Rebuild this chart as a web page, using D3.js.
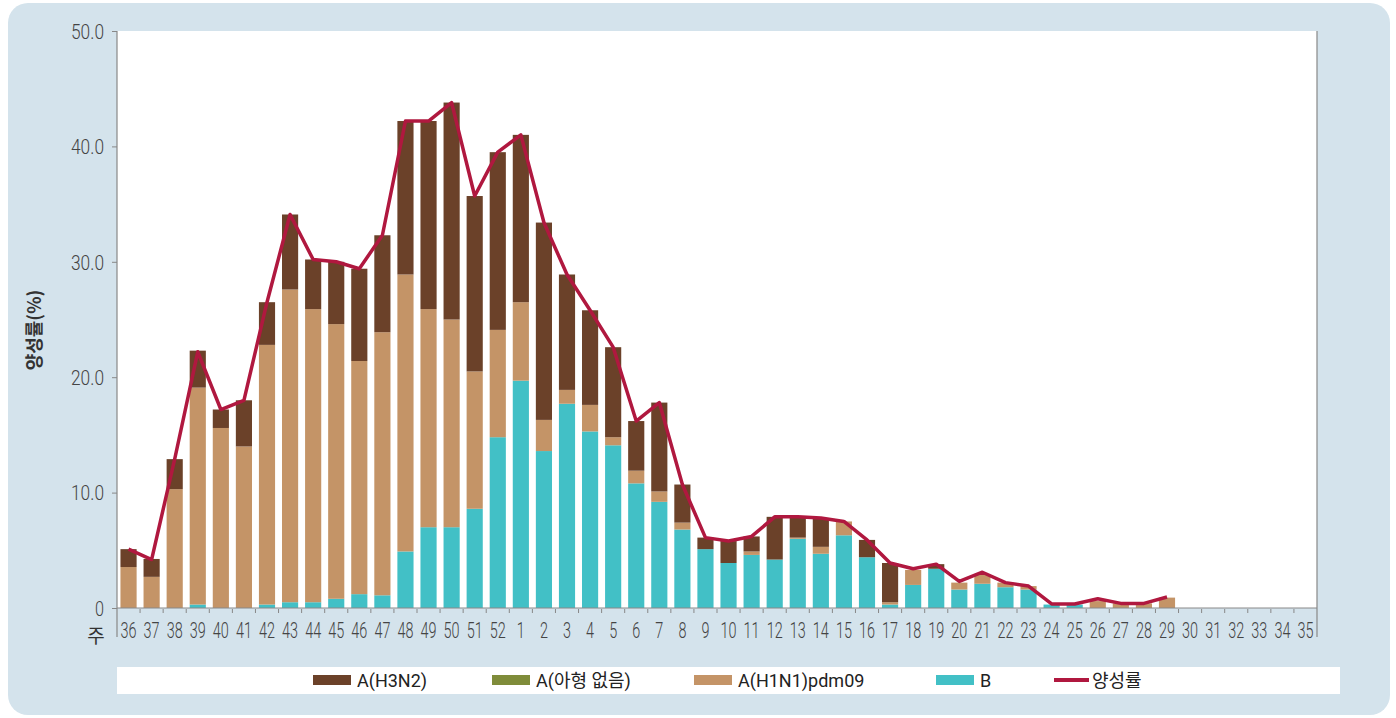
<!DOCTYPE html>
<html>
<head>
<meta charset="utf-8">
<script src="https://cdn.jsdelivr.net/npm/d3@7"></script>
<style>
  body { margin: 0; background: #fff; }
  text { font-family: Roboto, 'DejaVu Sans', sans-serif; }
</style>
</head>
<body>
<div class="chart"></div>
<script>
// weeks 36 ~ 35 (next year)
const weeks = ['36','37','38','39','40','41','42','43','44','45','46','47','48','49','50','51','52',
  '1','2','3','4','5','6','7','8','9','10','11','12','13','14','15','16','17','18','19','20',
  '21','22','23','24','25','26','27','28','29','30','31','32','33','34','35'];

const seriesB    = [0,0,0,0.3,0,0,0.3,0.5,0.5,0.8,1.2,1.1,4.9,7.0,7.0,8.6,14.8,
  19.7,13.6,17.7,15.3,14.1,10.8,9.2,6.8,5.1,3.9,4.6,4.2,6.0,4.7,6.3,4.4,0.3,2.0,3.4,1.6,
  2.1,1.8,1.6,0.3,0.3,0,0,0,0,0,0,0,0,0,0];
const seriesH1N1 = [3.55,2.7,10.3,18.8,15.6,14.0,22.5,27.1,25.4,23.8,20.2,22.8,24.0,18.9,18.0,11.9,9.3,
  6.8,2.7,1.2,2.3,0.7,1.1,0.9,0.6,0,0,0.3,0,0.1,0.6,1.2,0,0.2,1.3,0,0.6,
  0.8,0.4,0.3,0,0,0.6,0.4,0.4,0.9,0,0,0,0,0,0];
const seriesNoSub = weeks.map(() => 0);
const seriesH3N2 = [1.55,1.55,2.6,3.2,1.6,4.0,3.7,6.5,4.3,5.4,8.0,8.4,13.3,16.3,18.8,15.2,15.4,
  14.5,17.1,10.0,8.2,7.8,4.3,7.7,3.3,1.0,1.9,1.3,3.7,1.8,2.5,0,1.5,3.4,0,0.4,0,
  0,0,0,0,0,0,0,0,0,0,0,0,0,0,0];
const rate = [5.1,4.2,12.9,22.2,17.2,18.0,26.5,34.1,30.2,30.0,29.4,32.3,42.2,42.2,43.8,35.7,39.5,
  41.0,33.4,28.9,25.8,22.6,16.2,17.8,10.7,6.1,5.8,6.2,7.9,7.9,7.8,7.5,5.9,3.9,3.4,3.8,2.3,
  3.1,2.2,1.9,0.35,0.35,0.8,0.4,0.4,0.95,null,null,null,null,null,null];

const yTicks = [0,10,20,30,40,50];
const yTickLabels = ['0','10.0','20.0','30.0','40.0','50.0'];

const legendNames = ['A(H3N2)','A(아형 없음)','A(H1N1)pdm09','B','양성률'];
const colors = {h3n2:'#6b4129', nosub:'#7f8c3a', h1n1:'#c49467', b:'#42c0c6', rate:'#b0183f'};

const W = 1396, H = 718;
const margin = {top: 31, left: 117, right: 79, bottom: 110};
const w = W - margin.left - margin.right;
const h = H - margin.top - margin.bottom;

const svg = d3.select('.chart').append('svg')
  .attr('width', W).attr('height', H);

// background panel
svg.append('rect')
  .attr('x', 8).attr('y', 3).attr('width', 1382).attr('height', 712)
  .attr('rx', 20).attr('fill', '#d4e3ec');

const g = svg.append('g').attr('transform', `translate(${margin.left},${margin.top})`);

g.append('rect').attr('width', w).attr('height', h).attr('fill', '#fff');

const x = d3.scaleBand().domain(weeks).range([0, w]).padding(0);
const y = d3.scaleLinear().domain([0, 50]).range([h, 0]);

const rows = weeks.map((wk, i) => ({week: wk, b: seriesB[i], h1n1: seriesH1N1[i], nosub: seriesNoSub[i], h3n2: seriesH3N2[i]}));
const keys = ['b','h1n1','nosub','h3n2'];
const stacked = d3.stack().keys(keys)(rows);

const bw = x.bandwidth() * 0.7;
const off = (x.bandwidth() - bw) / 2;

g.selectAll('.layer')
  .data(stacked)
  .enter().append('g')
    .attr('class', 'layer')
    .attr('fill', d => colors[d.key])
  .selectAll('rect')
  .data(d => d)
  .enter().append('rect')
    .attr('x', d => x(d.data.week) + off)
    .attr('width', bw)
    .attr('y', d => y(d[1]))
    .attr('height', d => y(d[0]) - y(d[1]));

// positive rate line
const line = d3.line()
  .defined(d => d != null)
  .x((d, i) => x(weeks[i]) + x.bandwidth() / 2)
  .y(d => y(d));

g.append('path')
  .datum(rate)
  .attr('fill', 'none')
  .attr('stroke', colors.rate)
  .attr('stroke-width', 3.5)
  .attr('stroke-linejoin', 'round')
  .attr('d', line);

// y axis
const yAxis = g.append('g')
  .call(d3.axisLeft(y).tickValues(yTicks).tickSize(5).tickPadding(8)
    .tickFormat((d, i) => yTickLabels[i]));
yAxis.select('.domain').remove();
yAxis.selectAll('line').attr('stroke', '#888');
yAxis.selectAll('text')
  .attr('font-size', 20)
  .attr('font-weight', 300)
  .attr('fill', '#444')
  .attr('dy', '0.36em')
  .attr('textLength', d => d === 0 ? 9 : 33)
  .attr('lengthAdjust', 'spacingAndGlyphs');

// x axis: ticks on the band edges
const xAxis = g.append('g').attr('transform', `translate(0,${h})`);
xAxis.append('line').attr('x1', 0).attr('x2', w).attr('stroke', '#888');
xAxis.selectAll('.tk')
  .data(weeks.slice(1))
  .enter().append('line')
    .attr('x1', d => x(d)).attr('x2', d => x(d))
    .attr('y1', 1).attr('y2', 5)
    .attr('stroke', '#888');
xAxis.selectAll('.lbl')
  .data(weeks)
  .enter().append('text')
    .attr('x', d => x(d) + x.bandwidth() / 2)
    .attr('y', 30)
    .attr('text-anchor', 'middle')
    .attr('font-size', 22)
    .attr('font-weight', 300)
    .attr('fill', '#444')
    .attr('textLength', d => d.length * 8)
    .attr('lengthAdjust', 'spacingAndGlyphs')
    .text(d => d);

// side lines
g.append('line').attr('x1', 0).attr('x2', 0).attr('y1', 0).attr('y2', h + 29).attr('stroke', '#888').attr('stroke-width', 1.2);
g.append('line').attr('x1', w).attr('x2', w).attr('y1', 0).attr('y2', h + 29).attr('stroke', '#888').attr('stroke-width', 1.2);

svg.append('text')
  .attr('x', 96).attr('y', 643)
  .attr('text-anchor', 'middle')
  .attr('font-size', 19)
  .attr('fill', '#333')
  .style('font-family', "'Noto Sans CJK KR', sans-serif")
  .text('주');

svg.append('text')
  .attr('transform', 'translate(41,330) rotate(-90)')
  .attr('text-anchor', 'middle')
  .attr('font-size', 18)
  .attr('font-weight', 'bold')
  .attr('fill', '#333')
  .style('font-family', "'Noto Sans CJK KR', sans-serif")
  .text('양성률(%)');

// legend
svg.append('rect').attr('x', 117).attr('y', 667).attr('width', 1223).attr('height', 27).attr('fill', '#fff');
const legendX = [313, 492, 694, 936, 1054];
const legendColors = [colors.h3n2, colors.nosub, colors.h1n1, colors.b, colors.rate];
const lg = svg.selectAll('.leg')
  .data(legendNames)
  .enter().append('g')
    .attr('transform', (d, i) => `translate(${legendX[i]},680)`);
lg.append('rect')
  .attr('x', 0)
  .attr('y', (d, i) => i === 4 ? -2 : -5)
  .attr('width', (d, i) => i === 4 ? 35 : 38)
  .attr('height', (d, i) => i === 4 ? 4 : 10)
  .attr('fill', (d, i) => legendColors[i]);
lg.append('text')
  .attr('x', (d, i) => i === 4 ? 38 : 44)
  .attr('y', 7)
  .attr('font-size', 18)
  .attr('fill', '#222')
  .style('font-family', "Roboto, 'Noto Sans CJK KR', sans-serif")
  .text(d => d);
</script>
</body>
</html>
